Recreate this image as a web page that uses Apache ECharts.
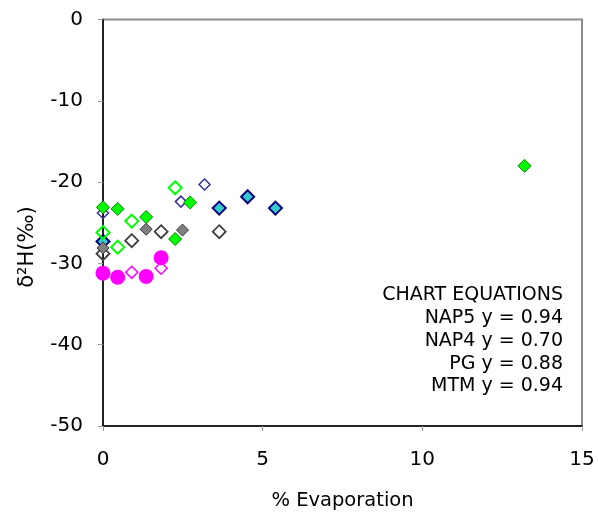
<!DOCTYPE html>
<html>
<head>
<meta charset="utf-8">
<script src="https://cdn.jsdelivr.net/npm/echarts@6/dist/echarts.min.js"></script>
<style>
  html, body { margin: 0; padding: 0; background: #fff; }
  #chart { width: 598px; height: 518px; }
</style>
</head>
<body>
<div id="chart"></div>
<script>
// % evaporation (x) and δ2H in per mil (y) for each site group
const nap5FilledX = [0, 0.46, 1.35, 2.73, 2.26, 13.2];
const nap5FilledY = [-23.1, -23.3, -24.3, -22.5, -27.0, -18.0];
const nap5OpenX = [0, 0.46, 0.9, 2.26];
const nap5OpenY = [-26.2, -28.0, -24.8, -20.7];
const pgFilledX = [0, 1.35, 2.49];
const pgFilledY = [-28.1, -25.8, -25.9];
const pgOpenX = [0, 0.9, 1.82, 3.64];
const pgOpenY = [-28.8, -27.2, -26.1, -26.1];
const nap4FilledX = [0, 3.64, 4.53, 5.4];
const nap4FilledY = [-27.3, -23.2, -21.8, -23.2];
const nap4OpenX = [0, 2.44, 3.18];
const nap4OpenY = [-23.8, -22.4, -20.3];
const mtmFilledX = [0, 0.46, 1.35, 1.82];
const mtmFilledY = [-31.2, -31.7, -31.6, -29.3];
const mtmOpenX = [0.9, 1.82];
const mtmOpenY = [-31.1, -30.6];

const xTicks = [0, 5, 10, 15];
const yTicks = [-50, -40, -30, -20, -10, 0];

const equationTitle = 'CHART EQUATIONS';
const equationLines = ['NAP5 y = 0.94', 'NAP4 y = 0.70', 'PG y = 0.88', 'MTM y = 0.94'];

const FONT = 'DejaVu Sans';
const zip = (xs, ys) => xs.map((x, i) => [x, ys[i]]);

function scatter(name, xs, ys, symbol, size, fill, border, bw) {
  return {
    name, type: 'scatter', symbol, symbolSize: size,
    data: zip(xs, ys),
    itemStyle: { color: fill, borderColor: border, borderWidth: bw, opacity: 1 },
    emphasis: { disabled: true },
    silent: true
  };
}

const chart = echarts.init(document.getElementById('chart'), null, { renderer: 'canvas' });

chart.setOption({
  animation: false,
  backgroundColor: '#ffffff',
  grid: {
    left: 103, right: 16, top: 19.5, bottom: 92,
    show: true, borderColor: '#8c8c8c', borderWidth: 2, backgroundColor: 'transparent'
  },
  xAxis: {
    type: 'value', min: xTicks[0], max: xTicks[xTicks.length - 1], interval: 5,
    name: '% Evaporation', nameLocation: 'middle', nameGap: 65,
    nameTextStyle: { fontFamily: FONT, fontSize: 19.5, color: '#000' },
    axisLine: { show: true, onZero: false, lineStyle: { color: '#000', width: 1.5 } },
    axisTick: { show: true, length: 5, lineStyle: { color: '#999' } },
    axisLabel: { margin: 24, fontFamily: FONT, fontSize: 20, color: '#000' },
    splitLine: { show: false }
  },
  yAxis: {
    type: 'value', min: yTicks[0], max: yTicks[yTicks.length - 1], interval: 10,
    axisLine: { show: true, onZero: false, lineStyle: { color: '#000', width: 1.5 } },
    axisTick: { show: true, length: 5, lineStyle: { color: '#999' } },
    axisLabel: { margin: 20, align: 'right', fontFamily: FONT, fontSize: 20, color: '#000' },
    splitLine: { show: false }
  },
  graphic: [
    {
      type: 'text', x: 28, y: 247, rotation: Math.PI / 2,
      style: {
        text: 'δ²H(‰)', fontFamily: FONT, fontSize: 21, fill: '#000',
        align: 'center', verticalAlign: 'middle'
      }
    },
    {
      type: 'text', x: 563, y: 284,
      style: {
        text: [equationTitle].concat(equationLines).join('\n'),
        fontFamily: FONT, fontSize: 19, lineHeight: 22.75, fill: '#000',
        align: 'right', verticalAlign: 'top'
      }
    }
  ],
  series: [
    scatter('NAP4 open', nap4OpenX, nap4OpenY, 'diamond', 11, 'transparent', '#333399', 1.5),
    scatter('PG open', pgOpenX, pgOpenY, 'diamond', 13, 'transparent', '#404040', 1.8),
    scatter('NAP4', nap4FilledX, nap4FilledY, 'diamond', 13, '#33cccc', '#000080', 2),
    scatter('PG', pgFilledX, pgFilledY, 'diamond', 12, '#808080', '#333333', 1),
    scatter('NAP5 open', nap5OpenX, nap5OpenY, 'diamond', 13, 'transparent', '#00ff00', 2),
    scatter('NAP5', nap5FilledX, nap5FilledY, 'diamond', 13, '#00ff00', '#008000', 1),
    scatter('MTM open', mtmOpenX, mtmOpenY, 'diamond', 12, 'transparent', '#ff00ff', 1.5),
    scatter('MTM', mtmFilledX, mtmFilledY, 'circle', 15, '#ff00ff', '#ff00ff', 0)
  ]
});
</script>
</body>
</html>
